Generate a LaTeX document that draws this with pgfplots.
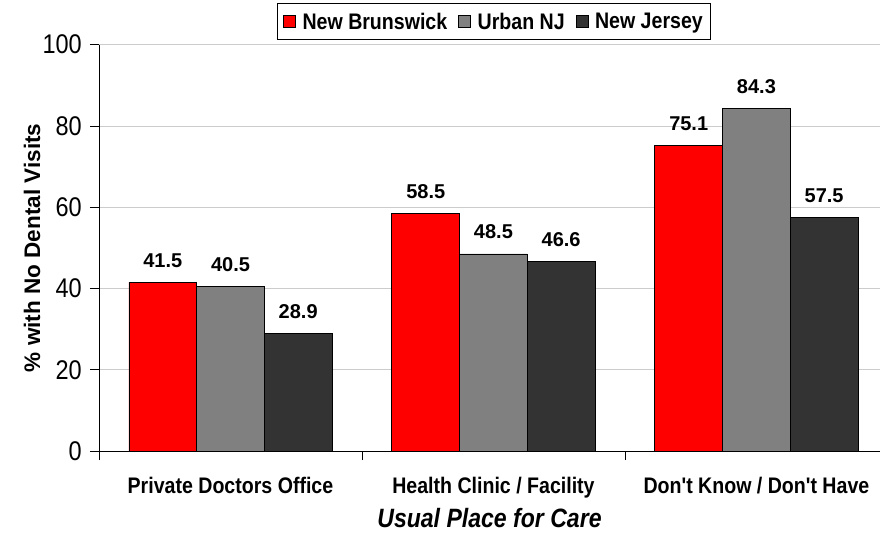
\documentclass[border=0pt]{standalone}
\usepackage{fontspec}
\setmainfont{Liberation Sans}
\newfontfamily\cf[FakeStretch=0.87]{Liberation Sans}
\usepackage{pgfplots}
\pgfplotsset{compat=1.18}
\definecolor{nbred}{HTML}{FF0000}
\definecolor{urbgray}{HTML}{808080}
\definecolor{njdark}{HTML}{333333}
\begin{document}
\begin{tikzpicture}
\begin{axis}[
  name=ax,
  scale only axis,
  width=781pt, height=406.3pt,
  xmin=-0.5, xmax=2.47,
  ymin=0, ymax=100,
  ybar=0pt, bar width=67.7pt,
  axis x line*=bottom, axis y line*=left,
  axis line style={-, black, line width=0.8pt},
  tick align=outside,
  major tick length=9pt,
  tick style={black, line width=0.8pt},
  ytick={0,20,...,100},
  ymajorgrids, grid style={gray!40, line width=0.8pt},
  xtick={-0.5,0.5,1.5},
  xticklabels={,,},
  extra x ticks={0,1,2},
  extra x tick labels={Private Doctors Office, Health Clinic / Facility, Don't Know / Don't Have},
  extra x tick style={major tick length=0pt, grid=none},
  /pgf/number format/assume math mode=true,
  xticklabel style={font=\cf\bfseries\fontsize{22.5}{22.5}\selectfont, anchor=base, inner sep=0pt, yshift=-42pt},
  yticklabel style={font=\cf\fontsize{27}{27}\selectfont, anchor=east, inner sep=0pt, xshift=-8pt},
  xlabel={\itshape Usual Place for Care},
  xlabel style={at={(axis description cs:0.5,0)}, anchor=base, yshift=-76pt, inner sep=0pt, font=\cf\bfseries\fontsize{26.5}{26.5}\selectfont},
  ylabel={\% with No Dental Visits},
  ylabel style={at={(axis description cs:-0.0755,0.5)}, anchor=base, inner sep=0pt, font=\bfseries\fontsize{22.5}{22.5}\selectfont},
  nodes near coords={\pgfmathprintnumber[fixed,fixed zerofill,precision=1]{\pgfplotspointmeta}},
  every node near coord/.append style={font=\bfseries\fontsize{20}{20}\selectfont, anchor=base, inner sep=0pt, yshift=15pt, black},
  legend columns=3,
  legend style={at={(axis description cs:0.5,1)}, anchor=south, yshift=4.7pt, xshift=4.5pt,
    draw=black, line width=0.8pt, font=\cf\bfseries\fontsize{22.5}{22.5}\selectfont,
    inner xsep=5.5pt, inner ysep=7pt,
    /tikz/every even column/.append style={column sep=9pt}},
  legend image code/.code={\path[draw=none, fill=none] (0pt,-6pt) rectangle (17pt,6pt); \draw[#1, draw=black, line width=0.8pt] (0pt,-6pt) rectangle (12pt,6pt);},
]
\addplot[fill=nbred, draw=black, line width=0.8pt] coordinates {(0,41.5) (1,58.5) (2,75.1)};
\addplot[fill=urbgray, draw=black, line width=0.8pt] coordinates {(0,40.5) (1,48.5) (2,84.3)};
\addplot[fill=njdark, draw=black, line width=0.8pt] coordinates {(0,28.9) (1,46.6) (2,57.5)};
\legend{New Brunswick, Urban NJ, New Jersey}
\end{axis}
\pgfresetboundingbox
\path ([shift={(-99pt,-82pt)}]ax.south west) rectangle ([shift={(0pt,44.7pt)}]ax.north east);
\end{tikzpicture}
\end{document}
